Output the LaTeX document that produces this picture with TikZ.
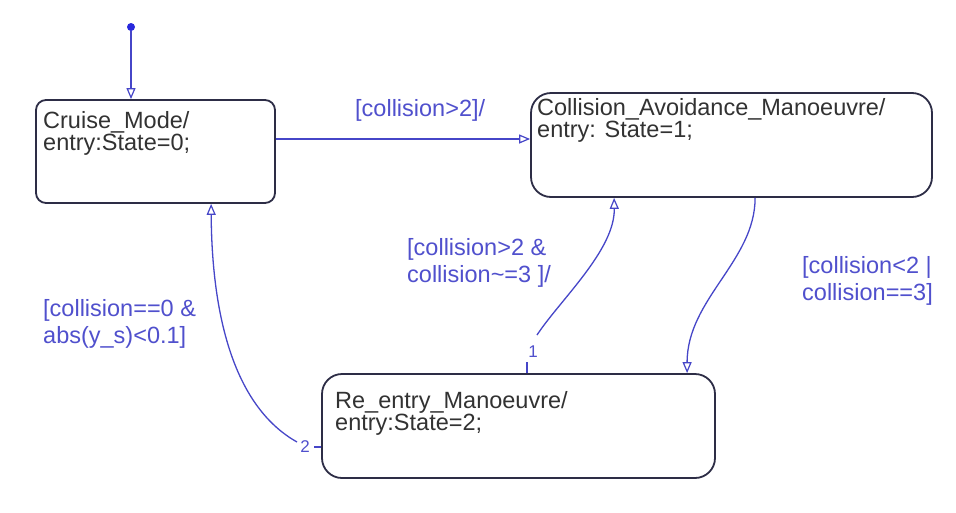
\documentclass[tikz,border=0pt]{standalone}
\usepackage{fontspec}
\setmainfont{Liberation Sans}
\usetikzlibrary{arrows.meta}
\definecolor{boxc}{RGB}{45,45,70}
\definecolor{trc}{RGB}{70,70,200}
\definecolor{lblc}{RGB}{80,80,205}
\definecolor{txtc}{RGB}{50,50,50}
\definecolor{dotc}{RGB}{40,40,220}
\begin{document}
\begin{tikzpicture}[x=1pt,y=-1pt,
  stbox/.style={draw=boxc, line width=1.8pt, rectangle, inner sep=0pt},
  stxt/.style={anchor=base west, inner sep=0pt, align=left, text=txtc, font=\fontsize{23.5}{22}\selectfont},
  lbl/.style={anchor=base west, inner sep=0pt, align=left, text=lblc, font=\fontsize{23.5}{27}\selectfont},
  ord/.style={inner sep=0pt, text=lblc, font=\fontsize{17}{17}\selectfont},
  trline/.style={draw=trc, line width=1.3pt},
  opentip/.style={-{Triangle[open, length=11pt, width=9pt, line width=1.2pt]}}]
\useasboundingbox[fill=white] (0,0) rectangle (956,512);

% states
\node[stbox, rounded corners=10pt, minimum width=239pt, minimum height=103pt] (cruise) at (155.5,151.5) {};
\node[stbox, rounded corners=20pt, minimum width=401pt, minimum height=104pt] (coll) at (731.5,145) {};
\node[stbox, rounded corners=20pt, minimum width=393pt, minimum height=104pt] (reent) at (518.5,426) {};

% (base anchor = baseline of the last line)
\node[stxt] (cruiset) at (43,150) {Cruise\_Mode/\\entry:State=0;};
\node[stxt] (collt) at (537,137) {Collision\_Avoidance\_Manoeuvre/\\entry: State=1;};
\node[stxt] (reentt) at (335,430) {Re\_entry\_Manoeuvre/\\entry:State=2;};

% default transition
\node[circle, fill=dotc, inner sep=0pt, minimum size=8pt] (init) at (131,27) {};
\draw[trline, opentip] (init) -- (init |- cruise.north);

% Cruise -> Collision
\draw[trline, opentip] ([yshift=12.5pt]cruise.east) -- ([yshift=12.5pt]cruise.east -| coll.west);
\node[lbl] (l1) at (355,116) {[collision>2]/};

% Collision -> Re_entry
\draw[trline, opentip] ([xshift=225pt]coll.south west) .. controls +(0,63) and +(0,-74) .. ([xshift=366pt]reent.north west);
\node[lbl] (l3) at (802,300) {[collision<2 |\\collision==3]};

% Re_entry -> Collision
\draw[trline] ([xshift=206pt]reent.north west) -- ++(0,-11);
\node[ord] (o1) at (533,352) {1};
\coordinate (s1) at (537,335);
\draw[trline, opentip] (s1) .. controls (560,300) and (615,250) .. ([xshift=84pt]coll.south west);
\node[lbl] (l2) at (407,282) {[collision>2 \&\\collision\textasciitilde=3 ]/};

% Re_entry -> Cruise
\draw[trline] ([yshift=-21pt]reent.west) -- ++(-7,0);
\node[ord] (o2) at (305,447) {2};
\coordinate (s2) at (297,442);
\draw[trline, opentip] (s2) .. controls (240,410) and (212,330) .. ([xshift=176pt]cruise.south west);
\node[lbl] (l4) at (43,343) {[collision==0 \&\\abs(y\_s)<0.1]};
\end{tikzpicture}
\end{document}
